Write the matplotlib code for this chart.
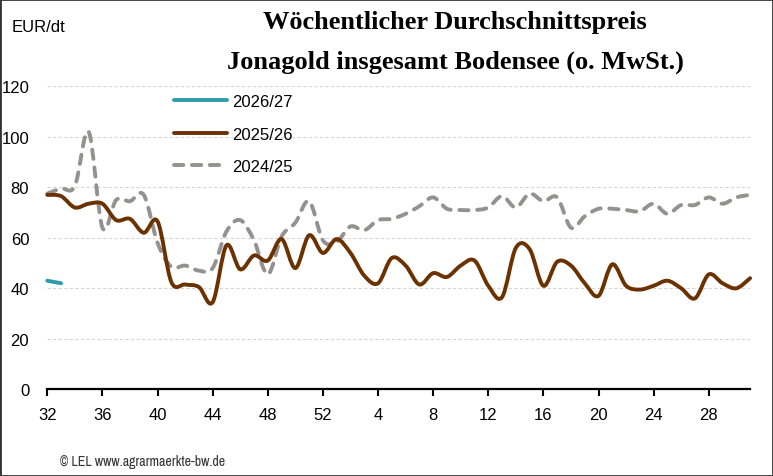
import matplotlib
matplotlib.use("Agg")
import matplotlib.pyplot as plt
from matplotlib.path import Path
from matplotlib.patches import PathPatch, Rectangle
from matplotlib.lines import Line2D

plt.rcParams['font.family'] = ['Liberation Sans', 'DejaVu Sans']

# calendar weeks of the marketing season (week 32 .. week 31)
weeks = list(range(32, 53)) + list(range(1, 32))

price_2026 = [43, 42]
price_2025 = [77, 76.5, 72, 73.5, 73.5, 67, 67.5, 62, 66.5, 42.5,
              41.5, 40.5, 34.5, 57, 47.5, 53, 51, 59.5, 48, 61,
              54, 59.5, 54, 45, 42, 52, 49, 41.5, 46, 44.5,
              49, 51, 41, 36.5, 56, 55.5, 41, 50.5, 49, 42,
              37, 49.5, 41, 39.5, 41, 43, 40, 36, 45.5, 42,
              40, 44]
price_2024 = [77.5, 79.5, 80.5, 102, 64, 75, 74.5, 77, 58, 48.5,
              49, 47, 48, 62.5, 67, 59, 45.5, 60.5, 66, 74.5,
              59, 58.5, 64.5, 63, 67, 67.5, 69.5, 72.5, 76, 71.5,
              71, 71, 72, 76.5, 72, 77.5, 74.5, 76, 64, 68.5,
              71.5, 71.5, 71, 70.5, 73.5, 69.5, 73, 73, 76, 73.5,
              76, 77]

seasons = ['2026/27', '2025/26', '2024/25']
colors = ['#2e9bab', '#6b3200', '#959191']


def smooth_path(values):
    # excel-like smoothed line: cubic bezier through every point
    pts = list(enumerate(values))
    verts = [pts[0]]
    codes = [Path.MOVETO]
    n = len(pts)
    if n == 2:
        verts.append(pts[1])
        codes.append(Path.LINETO)
        return Path(verts, codes)
    for k in range(n - 1):
        p0 = pts[max(k - 1, 0)]
        p1 = pts[k]
        p2 = pts[k + 1]
        p3 = pts[min(k + 2, n - 1)]
        c1 = (p1[0] + (p2[0] - p0[0]) / 6, p1[1] + (p2[1] - p0[1]) / 6)
        c2 = (p2[0] - (p3[0] - p1[0]) / 6, p2[1] - (p3[1] - p1[1]) / 6)
        verts += [c1, c2, p2]
        codes += [Path.CURVE4] * 3
    return Path(verts, codes)


fig = plt.figure(figsize=(7.73, 4.77), dpi=100)
ax = fig.add_axes([47.3 / 773, 1 - 390.3 / 477, 702.8 / 773, 303 / 477])

lw = 2.8
styles = [dict(linestyle='-'), dict(linestyle='-'), dict(linestyle=(0, (2.4, 2.2)))]
series = [price_2026, price_2025, price_2024]
handles = []
for vals, col, st in zip(series[::-1], colors[::-1], styles[::-1]):
    patch = PathPatch(smooth_path(vals), fill=False, edgecolor=col, linewidth=lw,
                      capstyle='round', joinstyle='round', clip_on=False, **st)
    ax.add_patch(patch)
for col, st, lab in zip(colors, styles, seasons):
    handles.append(Line2D([], [], color=col, linewidth=lw, solid_capstyle='round',
                          dash_capstyle='round', label=lab, **st))

ax.set_xlim(0, 51)
ax.set_ylim(0, 120)
ax.set_xticks(range(0, len(weeks), 4))
ax.set_xticklabels([str(w) for w in weeks[::4]])
ax.set_yticks(range(0, 121, 20))
ax.tick_params(axis='x', direction='out', length=5, width=1.5, color='black',
               labelsize=12, pad=8)
ax.tick_params(axis='y', length=0, labelsize=12, pad=13)
for s in ['left', 'right', 'top']:
    ax.spines[s].set_visible(False)
ax.spines['bottom'].set_linewidth(1.6)
ax.spines['bottom'].set_color('black')
ax.yaxis.grid(True, color='#d6d6d6', linestyle=(0, (3, 2)), linewidth=0.8)
ax.set_axisbelow(True)

ax.legend(handles=handles, loc='upper left', bbox_to_anchor=(174 / 773, 1 - 95 / 477),
          bbox_transform=fig.transFigure, frameon=False, fontsize=12,
          handlelength=3.2, handletextpad=0.3, labelspacing=1.05,
          borderpad=0, borderaxespad=0)

fig.text(12 / 773, 1 - 28 / 477, 'EUR/dt', fontsize=12, ha='left', va='center')
fig.text(455 / 773, 1 - 23 / 477, 'Wöchentlicher Durchschnittspreis',
         family=['Liberation Serif', 'DejaVu Serif'], fontweight='bold',
         fontsize=19, ha='center', va='center')
fig.text(455 / 773, 1 - 62 / 477, 'Jonagold insgesamt Bodensee (o. MwSt.)',
         family=['Liberation Serif', 'DejaVu Serif'], fontweight='bold',
         fontsize=19, ha='center', va='center')
fig.text(60 / 773, 1 - 462 / 477, '© LEL www.agrarmaerkte-bw.de',
         family=['Archivo Narrow', 'Liberation Sans'], fontsize=10, color='#333333',
         ha='left', va='center')

fig.add_artist(Rectangle((0, 0), 1, 1, transform=fig.transFigure, fill=False,
                         edgecolor='#333333', linewidth=2))

fig.savefig('out.png', dpi=100)
